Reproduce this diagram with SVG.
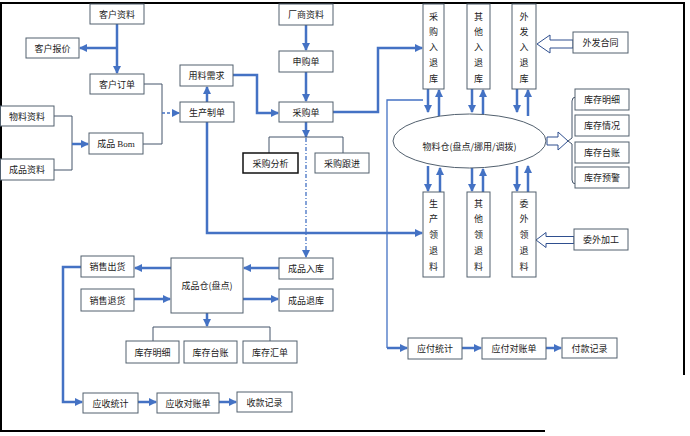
<svg xmlns="http://www.w3.org/2000/svg" width="690" height="436" viewBox="0 0 690 436">
<defs>
<marker id="ah" markerUnits="userSpaceOnUse" markerWidth="8" markerHeight="8" refX="7" refY="4" orient="auto"><path d="M0,0 L8,4 L0,8 z" fill="#4472C4"/></marker>
<style>
.b{fill:#fff;stroke:#52606e;stroke-width:1}
.bk{fill:#fff;stroke:#111;stroke-width:1.5}
.t{font-family:"Noto Sans CJK SC","Liberation Sans",sans-serif;font-size:9px;fill:#222;text-anchor:middle;dominant-baseline:central}
.th{fill:none;stroke:#4472C4;stroke-width:2.5}
.thin{fill:none;stroke:#44546a;stroke-width:1}
.thinb{fill:none;stroke:#4472C4;stroke-width:1.3}
.hol{fill:#fff;stroke:#2f4f8f;stroke-width:1}
.frame{stroke:#000;stroke-width:2;fill:none}
</style>
</defs>
<rect width="690" height="436" fill="#fff"/>
<g id="frame">
<path class="frame" d="M0,3 H684 V375"/>
<path class="frame" d="M1,3 V431"/>
<path class="frame" d="M0,431 H545"/>
</g>
<g id="connectors">
<path class="th" d="M117,24 V73" marker-end="url(#ah)"/>
<path class="th" d="M117,48 H80" marker-end="url(#ah)"/>
<path class="thin" d="M144,84 H162 V144 H143"/>
<path class="thinb" d="M162,113 H179" stroke-dasharray="3 2" marker-end="url(#ah)"/>
<path class="thin" d="M54,116 H72 V170 H54"/>
<path class="th" d="M72,144 H88" marker-end="url(#ah)"/>
<path class="th" d="M207,102 V87" marker-end="url(#ah)"/>
<path class="th" d="M233,75 H257 V113 H278" marker-end="url(#ah)"/>
<path class="th" d="M306,25 V50" marker-end="url(#ah)"/>
<path class="th" d="M306,72 V101" marker-end="url(#ah)"/>
<path class="th" d="M333,112 H378 V48 H422" marker-end="url(#ah)"/>
<path class="th" d="M306,122 V137" marker-end="url(#ah)"/>
<path class="thin" d="M269,153 V137 H343 V153"/>
<path class="thinb" d="M306,138 V257" stroke-dasharray="4 2 1 2" marker-end="url(#ah)"/>
<path class="th" d="M207,122 V233 H422" marker-end="url(#ah)"/>
<path class="th" d="M428,89 V112" marker-end="url(#ah)"/>
<path class="th" d="M439,116 V90" marker-end="url(#ah)"/>
<path class="th" d="M472,89 V112" marker-end="url(#ah)"/>
<path class="th" d="M483,114 V90" marker-end="url(#ah)"/>
<path class="th" d="M517,89 V112" marker-end="url(#ah)"/>
<path class="th" d="M528,116 V90" marker-end="url(#ah)"/>
<path class="th" d="M428,166 V191" marker-end="url(#ah)"/>
<path class="th" d="M440,192 V168" marker-end="url(#ah)"/>
<path class="th" d="M472,168 V191" marker-end="url(#ah)"/>
<path class="th" d="M483,192 V169" marker-end="url(#ah)"/>
<path class="th" d="M517,166 V191" marker-end="url(#ah)"/>
<path class="th" d="M528,192 V166" marker-end="url(#ah)"/>
<polygon class="hol" points="573,40 550,40 550,35 537,44 550,53 550,48 573,48"/>
<polygon class="hol" points="574,236.5 546,236.5 546,232.5 536,240 546,247.5 546,243.5 574,243.5"/>
<polygon class="hol" points="547,137 558,137 558,132 568,141 558,150 558,145 547,145"/>
<path class="thin" d="M576,97 Q572,97 572,101 V138 L568,141 L572,144 V180 Q572,184 576,184"/>
<path class="thinb" d="M423,100 H387 V348"/>
<path class="th" d="M387,348 H407" marker-end="url(#ah)"/>
<path class="th" d="M462,348 H481" marker-end="url(#ah)"/>
<path class="th" d="M546,348 H561" marker-end="url(#ah)"/>
<path class="th" d="M171,268 H135" marker-end="url(#ah)"/>
<path class="th" d="M134,299 H170" marker-end="url(#ah)"/>
<path class="th" d="M279,268 H244" marker-end="url(#ah)"/>
<path class="th" d="M243,299 H278" marker-end="url(#ah)"/>
<path class="th" d="M207,313 V326" marker-end="url(#ah)"/>
<path class="thin" d="M153,341 V327 H270 V341"/>
<path class="th" d="M81,267 H63 V402 H82" marker-end="url(#ah)"/>
<path class="th" d="M138,402 H156" marker-end="url(#ah)"/>
<path class="th" d="M219,402 H236" marker-end="url(#ah)"/>
</g>
<g id="khzl"><rect class="b" x="90" y="4" width="54" height="20"/><text class="t" x="117" y="14">客户资料</text></g>
<g id="khbj"><rect class="b" x="26" y="38" width="53" height="20"/><text class="t" x="52.5" y="48">客户报价</text></g>
<g id="khdd"><rect class="b" x="90" y="74" width="54" height="20"/><text class="t" x="117" y="84">客户订单</text></g>
<g id="ylxq"><rect class="b" x="180" y="65" width="53" height="21"/><text class="t" x="206.5" y="75.5">用料需求</text></g>
<g id="scdz"><rect class="b" x="180" y="102" width="54" height="20"/><text class="t" x="207" y="112">生产制单</text></g>
<g id="wlzl"><rect class="b" x="0.5" y="106" width="53.5" height="20"/><text class="t" x="27" y="116">物料资料</text></g>
<g id="cpbom"><rect class="b" x="89" y="133" width="54" height="21"/><text class="t" x="116" y="143.5">成品 <tspan font-family="Liberation Serif">Bom</tspan></text></g>
<g id="cpzl"><rect class="b" x="0.5" y="159" width="53.5" height="21"/><text class="t" x="27" y="169.5">成品资料</text></g>
<g id="cszl"><rect class="b" x="279" y="4" width="54" height="21"/><text class="t" x="306" y="14.5">厂商资料</text></g>
<g id="sgd"><rect class="b" x="279" y="51" width="54" height="21"/><text class="t" x="306" y="61.5">申购单</text></g>
<g id="cgd"><rect class="b" x="279" y="102" width="54" height="20"/><text class="t" x="306" y="112">采购单</text></g>
<g id="cgfx"><rect class="bk" x="243" y="153" width="55" height="20"/><text class="t" x="270.5" y="163">采购分析</text></g>
<g id="cggj"><rect class="b" x="315" y="153" width="54" height="20"/><text class="t" x="342" y="163">采购跟进</text></g>
<g id="cgrtk"><rect class="b" x="423" y="4" width="21" height="85"/><text class="t" x="433.5"><tspan x="433.5" y="16">采</tspan><tspan x="433.5" y="31">购</tspan><tspan x="433.5" y="46">入</tspan><tspan x="433.5" y="62">退</tspan><tspan x="433.5" y="78">库</tspan></text></g>
<g id="qtrtk"><rect class="b" x="467" y="4" width="23" height="85"/><text class="t"><tspan x="478.5" y="16">其</tspan><tspan x="478.5" y="31">他</tspan><tspan x="478.5" y="46">入</tspan><tspan x="478.5" y="62">退</tspan><tspan x="478.5" y="78">库</tspan></text></g>
<g id="wfrtk"><rect class="b" x="512" y="4" width="24" height="85"/><text class="t"><tspan x="524" y="16">外</tspan><tspan x="524" y="31">发</tspan><tspan x="524" y="46">入</tspan><tspan x="524" y="62">退</tspan><tspan x="524" y="78">库</tspan></text></g>
<g id="wfht"><rect class="b" x="573" y="32" width="55" height="21"/><text class="t" x="600.5" y="42.5">外发合同</text></g>
<g id="wlc"><ellipse cx="469.5" cy="141" rx="76.5" ry="27" fill="#fff" stroke="#52606e" stroke-width="1"/><text class="t" x="469.5" y="146">物料仓(盘点/挪用/调拨)</text></g>
<g id="kcmx"><rect class="b" x="575" y="89" width="54" height="21"/><text class="t" x="602" y="99.5">库存明细</text></g>
<g id="kcqk"><rect class="b" x="575" y="115" width="54" height="21"/><text class="t" x="602" y="125.5">库存情况</text></g>
<g id="kctz"><rect class="b" x="575" y="142" width="54" height="21"/><text class="t" x="602" y="152.5">库存台账</text></g>
<g id="kcyj"><rect class="b" x="575" y="167" width="54" height="21"/><text class="t" x="602" y="177.5">库存预警</text></g>
<g id="sclt"><rect class="b" x="423" y="192" width="21" height="85"/><text class="t"><tspan x="433.5" y="203">生</tspan><tspan x="433.5" y="218">产</tspan><tspan x="433.5" y="234">领</tspan><tspan x="433.5" y="250">退</tspan><tspan x="433.5" y="266">料</tspan></text></g>
<g id="qtlt"><rect class="b" x="467" y="192" width="23" height="85"/><text class="t"><tspan x="478.5" y="203">其</tspan><tspan x="478.5" y="218">他</tspan><tspan x="478.5" y="234">领</tspan><tspan x="478.5" y="250">退</tspan><tspan x="478.5" y="266">料</tspan></text></g>
<g id="wwlt"><rect class="b" x="512" y="192" width="24" height="85"/><text class="t"><tspan x="524" y="203">委</tspan><tspan x="524" y="218">外</tspan><tspan x="524" y="234">领</tspan><tspan x="524" y="250">退</tspan><tspan x="524" y="266">料</tspan></text></g>
<g id="wwjg"><rect class="b" x="574" y="229" width="54" height="21"/><text class="t" x="601" y="239.5">委外加工</text></g>
<g id="xsch"><rect class="b" x="81" y="256" width="53" height="21"/><text class="t" x="107.5" y="266.5">销售出货</text></g>
<g id="xsth"><rect class="b" x="81" y="289" width="53" height="22"/><text class="t" x="107.5" y="300">销售退货</text></g>
<g id="cpc"><rect class="b" x="171" y="258" width="72" height="55"/><text class="t" x="207" y="285">成品仓(盘点)</text></g>
<g id="cprk"><rect class="b" x="279" y="258" width="54" height="21"/><text class="t" x="306" y="268.5">成品入库</text></g>
<g id="cptk"><rect class="b" x="279" y="289" width="54" height="22"/><text class="t" x="306" y="300">成品退库</text></g>
<g id="kcmx2"><rect class="b" x="126" y="341" width="53" height="22"/><text class="t" x="152.5" y="352">库存明细</text></g>
<g id="kctz2"><rect class="b" x="184" y="341" width="53" height="22"/><text class="t" x="210.5" y="352">库存台账</text></g>
<g id="kchd"><rect class="b" x="243" y="341" width="54" height="22"/><text class="t" x="270" y="352">库存汇单</text></g>
<g id="ystj"><rect class="b" x="83" y="393" width="55" height="20"/><text class="t" x="110.5" y="403">应收统计</text></g>
<g id="ysdzd"><rect class="b" x="157" y="393" width="62" height="20"/><text class="t" x="188" y="403">应收对账单</text></g>
<g id="skjl"><rect class="b" x="237" y="392" width="55" height="20"/><text class="t" x="264.5" y="402">收款记录</text></g>
<g id="yftj"><rect class="b" x="408" y="338" width="54" height="21"/><text class="t" x="435" y="348.5">应付统计</text></g>
<g id="yfdzd"><rect class="b" x="482" y="338" width="64" height="21"/><text class="t" x="514" y="348.5">应付对账单</text></g>
<g id="fkjl"><rect class="b" x="562" y="338" width="55" height="20"/><text class="t" x="589.5" y="348">付款记录</text></g>
</svg>
